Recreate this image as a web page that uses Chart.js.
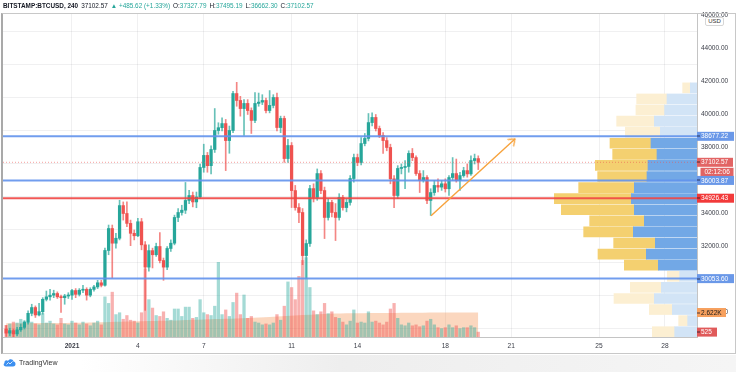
<!DOCTYPE html>
<html><head><meta charset="utf-8">
<script src="https://cdn.jsdelivr.net/npm/chart.js@4.4.1/dist/chart.umd.min.js"></script>
<style>
html,body{margin:0;padding:0;background:#fff;}
#wrap{position:relative;width:736px;height:372px;overflow:hidden;font-family:'Liberation Sans',Arial,sans-serif;}
#c{position:absolute;left:0;top:0;}
#hdr{position:absolute;left:3px;top:1px;font-size:6.4px;line-height:9px;color:#131722;white-space:nowrap;}
#hdr .t{color:#26a69a}
#hdr span{margin-right:3px}
#frame{position:absolute;left:1px;top:13px;width:735px;height:341px;box-sizing:border-box;border:1px solid #c8c8c8;border-left:2px solid #a9a9a9;pointer-events:none;}
#usd{position:absolute;left:705px;top:17px;width:19px;height:9px;box-sizing:border-box;border:1px solid #d6d6d6;border-radius:2px;background:#fff;font-size:6px;line-height:7px;text-align:center;color:#333;}
#logo{position:absolute;left:3px;top:357px;height:11px;font-size:7px;line-height:11px;color:#333;display:flex;align-items:center;}
#shade{position:absolute;left:80px;top:355px;width:656px;height:17px;background:linear-gradient(to right,rgba(240,240,240,0),rgba(236,236,236,0.9) 40%,rgba(244,244,244,0.9));}
</style></head>
<body>
<div id="wrap">
  <div id="shade"></div>
  <canvas id="c" width="736" height="372"></canvas>
  <div id="frame"></div>
  <div id="hdr"><b style="margin-right:3px">BITSTAMP:BTCUSD, 240</b><span>37102.57</span><span class="t">▲ +485.62 (+1.33%)</span><span>O:<span class="t" style="margin:0">37327.79</span></span><span>H:<span class="t" style="margin:0">37495.19</span></span><span>L:<span class="t" style="margin:0">36662.30</span></span><span>C:<span class="t" style="margin:0">37102.57</span></span></div>
  <div id="usd">USD</div>
  <div id="logo"><svg width="13" height="9" viewBox="0 0 26 18"><path d="M6 17 C1 17 0 12 3 10 C2 5 8 3 10 6 C12 1 20 1 21 7 C26 7 27 17 20 17 Z" fill="#3b8ff0"/><path d="M7 13 L11 9 L14 12 L19 7" stroke="#fff" stroke-width="1.6" fill="none"/></svg><span style="margin-left:3px">TradingView</span></div>
</div>
<script>
// ---- time axis (days from 2021-01-01 00:00) ----
const dayTicks  = [0, 3, 6, 10, 13, 17, 20, 24, 27];
const dayLabels = ['2021', '4', '7', '11', '14', '18', '21', '25', '28'];
const firstCandleDay = -3;          // first visible 4h candle: Dec 29 00:00
const barsPerDay = 6;               // 240-minute bars
const xMin = -3.142, xMax = 28.461;

// ---- price axis ----
const priceTicks = [28000, 30000, 32000, 34000, 36000, 38000, 40000, 42000, 44000, 46000];
const yMin = 26515, yMax = 46151;

// ---- OHLC (4h candles) ----
const opens = [27000,26750,26900,26700,26950,27100,27400,27950,28300,27850,28050,28800,28950,29050,29150,28950,28900,29000,
29050,29330,29100,29350,29400,29050,29400,29550,29800,29650,31760,33090,32200,32500,34480,34000,33400,32800,32650,33500,
32100,30750,31750,31500,32000,31150,30750,31880,32200,33760,34060,34200,34790,35090,34700,35000,36790,37520,36900,37880,
39030,39200,39450,38420,39030,41270,40850,40360,40670,40240,39640,40670,40750,40850,40240,40550,41030,39210,39760,37330,
38120,35390,34360,34060,31450,32180,35510,34970,36420,35390,33760,34670,34060,33760,34970,34360,34670,36120,37390,37090,
38240,38550,39510,39820,39150,38730,38420,38000,36100,35090,36730,36790,36850,37640,37390,36420,36000,36180,34790,35270,
35700,35600,35800,35500,36180,36420,36000,36300,36600,36400,37210,37327.79];
const highs = [27200,27050,27000,27100,27300,27500,28100,28500,28400,28550,28900,29300,29400,29350,29250,29050,29100,29200,
29400,29450,29450,29650,29500,29500,29650,29950,29950,31900,33300,33300,32800,34800,34700,34700,33600,33000,33700,33700,
32300,32100,31900,32200,32850,31300,32000,32400,33900,34300,34500,35880,35400,35300,35300,37000,38200,37700,38100,40360,
39500,39800,39700,39300,41400,41950,41100,40900,40900,40400,41330,41300,41200,41000,41450,41200,41300,39900,39900,38500,
38300,35700,34600,34300,32400,35700,35800,36700,36600,35600,34900,34800,34600,35200,35100,34900,36300,37600,37600,38600,
38850,40060,40100,40000,39300,38900,38600,38200,36300,36900,37000,37200,37800,37940,37500,36600,36600,36300,35500,36000,
36100,36000,36100,36300,37390,37300,36500,36800,37000,37500,37600,37495.19];
const lows = [26550,26600,26500,26600,26850,27000,27300,27800,27700,27800,27900,28700,28750,28900,28850,28000,28500,28850,
28800,28900,29000,29200,28750,28950,29300,29450,29550,29600,31500,30100,31900,32400,33600,33200,32050,32400,32600,31800,
28130,30500,30700,31400,31000,29950,30600,31700,32100,33500,33900,34000,34600,34400,34350,34900,36500,36500,36400,37700,
38800,39000,36600,37650,38900,40500,39900,38730,40000,38850,39500,40500,40600,40100,40100,40400,39000,38900,37100,37100,
34360,34200,33450,30900,30060,32000,34700,34800,35200,32480,33600,33800,32360,33600,34200,34100,34500,35900,36900,36950,
38100,38400,39300,39000,38600,37640,37800,35800,34360,34900,36400,35510,36500,37200,36300,35270,35900,34600,33880,35100,
35300,35400,35300,35090,36000,35900,35400,36200,36200,36300,37000,36662.30];
const closes = [26750,26900,26700,26950,27100,27400,27950,28300,27850,28050,28800,28950,29050,29150,28950,28900,29000,29050,
29330,29100,29350,29400,29050,29400,29550,29800,29650,31760,33090,32200,32500,34480,34000,33400,32800,32650,33500,32100,
30750,31750,31500,32000,31150,30750,31880,32200,33760,34060,34200,34790,35090,34700,35000,36790,37520,36900,37880,39030,
39200,39450,38420,39030,41270,40850,40360,40670,40240,39640,40670,40750,40850,40240,40550,41030,39210,39760,37330,38120,
35390,34360,34060,31450,32180,35510,34970,36420,35390,33760,34670,34060,33760,34970,34360,34670,36120,37390,37090,38240,
38550,39510,39820,39150,38730,38420,38000,36100,35090,36730,36790,36850,37640,37390,36420,36000,36180,34790,35270,35700,
35600,35800,35500,36180,36420,36000,36300,36600,36400,37210,37330,37102.57];
const volumes = [1250,1400,1600,1500,1900,1700,1500,1600,1400,1300,2500,1500,1700,1400,1300,2000,1400,1300,
1700,1500,1300,1600,1400,1200,1500,1700,1300,
4300,3600,4800,2400,2600,1900,2300,1800,1700,1500,2600,7300,4000,3100,2300,2200,2700,2000,1800,3000,3000,2200,3200,3200,2000,2100,4000,2600,2400,2300,
3300,8000,2400,2900,2200,3700,4700,2400,4500,2000,2200,1600,1500,1300,1400,1300,1500,2400,1800,3300,5900,5300,4000,6500,8200,8500,5300,
2800,2400,2700,3600,2500,2700,2100,2000,1600,1300,1700,2900,1500,1600,1500,2700,1600,1700,1500,1300,1600,3000,3600,2000,1300,1200,
1500,1200,1300,1100,1200,1700,1900,1300,1000,900,1000,1300,1000,1200,900,1000,1000,1200,1000,525];

// ---- volume moving average (orange area) ----
const maDays = [-3, -1, 1, 3, 5, 7, 9, 10.5, 12, 14, 16, 18.5];
const maVals = [1480, 1500, 1560, 1680, 1800, 1950, 2150, 2350, 2520, 2580, 2610, 2622];
const volMax = 34700;

// ---- visible-range volume profile (rows top -> bottom) ----
const vpPrices = [41614,40942,40271,39599,38927,38256,37584,36912,36240,35569,34897,34225,33553,32882,32210,31538,30867,30195,29523,28851,28180,27508,26836];
const vpSell   = [1000,4500,4860,6400,5500,6900,6000,7350,7500,9400,9850,9400,7900,9550,6250,7600,5800,2600,5350,6400,3700,1400,3350];
const vpBuy    = [1150,4550,4300,5650,5250,6150,6650,7900,7400,8350,11550,10950,8200,7450,6250,7250,5100,1850,4650,6050,3450,1350,3350];
const vpValueArea = [0,0,0,0,0,1,1,1,1,1,1,1,1,1,1,1,1,0,0,0,0,0,0];
const vpMax = 104100;

// ---- levels & drawings ----
const blueLevels = [38677.22, 36003.87, 30053.60];
const pocLevel = 34926.43;
const trendDays = [16.35, 20.17];
const trendPrices = [33867, 38515];
const countdown = '02:12:06';

// ---------------------------------------------------------------
const FONT = "'Liberation Sans', Arial, sans-serif";
Chart.defaults.font.family = FONT;
const UP = '#26a69a', DOWN = '#ef5350';
const days = closes.map((_, i) => firstCandleDay + i / barsPerDay);
const isUp = closes.map((c, i) => c >= opens[i]);

const arrowImg = document.createElement('canvas');
arrowImg.width = 16; arrowImg.height = 16;
(() => { const a = arrowImg.getContext('2d'); a.strokeStyle = '#f7a23b'; a.lineWidth = 1.4; a.lineCap = 'round';
  a.beginPath(); a.moveTo(2.5, 3.8); a.lineTo(8, 8); a.lineTo(2.5, 12.2); a.stroke(); })();

const hLine = (v, color, width, order, dash) => ({
  type: 'line', data: [{x: xMin, y: v}, {x: xMax, y: v}], borderColor: color, borderWidth: width,
  borderDash: dash || [], pointRadius: 0, fill: false, order, xAxisID: 'x', yAxisID: 'y'
});

const datasets = [
  { type: 'line', data: trendDays.map((d, i) => ({x: d, y: trendPrices[i]})), borderColor: '#f7a23b', borderWidth: 1.4,
    pointRadius: [0, 5], pointStyle: arrowImg, pointRotation: -42, fill: false, order: 0, xAxisID: 'x', yAxisID: 'y' },
  hLine(pocLevel, 'rgba(240,70,68,0.9)', 2, 1),
  ...blueLevels.map(v => hLine(v, 'rgba(98,146,236,0.9)', 2, 1)),
  hLine(closes[closes.length - 1], 'rgba(239,83,80,0.55)', 1, 2, [1, 2]),
  { type: 'bar', data: days.map((d, i) => ({x: d, y: [opens[i], closes[i]]})), backgroundColor: isUp.map(u => u ? UP : DOWN),
    barThickness: 2.6, grouped: false, minBarLength: 1, borderWidth: 0, order: 3, xAxisID: 'x', yAxisID: 'y' },
  { type: 'bar', data: days.map((d, i) => ({x: d, y: [lows[i], highs[i]]})),
    backgroundColor: isUp.map(u => u ? 'rgba(38,166,154,0.7)' : 'rgba(239,83,80,0.7)'),
    barThickness: 1, grouped: false, borderWidth: 0, order: 4, xAxisID: 'x', yAxisID: 'y' },
  { type: 'bar', indexAxis: 'y', data: vpPrices.map((p, i) => ({y: p, x: [0, vpSell[i]]})),
    backgroundColor: vpValueArea.map(v => v ? '#72a8e6' : '#d2e4f6'), barThickness: 10, grouped: false, borderWidth: 0,
    order: 5, xAxisID: 'xVP', yAxisID: 'y' },
  { type: 'bar', indexAxis: 'y', data: vpPrices.map((p, i) => ({y: p, x: [vpSell[i], vpSell[i] + vpBuy[i]]})),
    backgroundColor: vpValueArea.map(v => v ? '#f4d070' : '#fcefd2'), barThickness: 10, grouped: false, borderWidth: 0,
    order: 5, xAxisID: 'xVP', yAxisID: 'y' },
  { type: 'bar', data: days.map((d, i) => ({x: d, y: volumes[i]})),
    backgroundColor: isUp.map(u => u ? 'rgba(38,166,154,0.42)' : 'rgba(239,83,80,0.45)'),
    barThickness: 2.6, grouped: false, borderWidth: 0, order: 6, xAxisID: 'x', yAxisID: 'yVol' },
  { type: 'line', data: maDays.map((d, i) => ({x: d, y: maVals[i]})), borderWidth: 0, borderColor: 'rgba(0,0,0,0)',
    backgroundColor: 'rgba(244,150,88,0.38)', fill: 'origin', tension: 0.3, pointRadius: 0, order: 7, xAxisID: 'x', yAxisID: 'yVol' }
];

const boxPlugin = {
  id: 'boxes',
  afterDraw(chart) {
    const {ctx, chartArea} = chart;
    const yS = chart.scales.y, vS = chart.scales.yVol;
    const x0 = chartArea.right;
    ctx.save();
    ctx.font = '6.5px ' + FONT;
    ctx.textBaseline = 'middle';
    ctx.textAlign = 'left';
    const box = (y, text, bg, fg, w, dx) => {
      ctx.fillStyle = bg;
      ctx.fillRect(x0 + dx, y - 4.5, w, 9);
      ctx.fillStyle = fg;
      ctx.fillText(text, x0 + dx + 4, y + 0.3);
      if (!dx) { ctx.fillStyle = 'rgba(20,20,40,0.75)'; ctx.fillRect(x0, Math.round(y) - 0.5, 3, 1); }
    };
    const last = closes[closes.length - 1];
    box(yS.getPixelForValue(blueLevels[0]), blueLevels[0].toFixed(2), '#6a98e8', '#fff', 37, 0);
    box(yS.getPixelForValue(last), last.toFixed(2), '#e26464', '#fff', 36, 0);
    box(yS.getPixelForValue(last) + 10, countdown, '#e26464', '#fff', 33, 3.5);
    box(yS.getPixelForValue(blueLevels[1]), blueLevels[1].toFixed(2), '#6a98e8', '#fff', 37, 0);
    box(yS.getPixelForValue(pocLevel), pocLevel.toFixed(2), '#f23a3a', '#fff', 37, 0);
    box(yS.getPixelForValue(blueLevels[2]), blueLevels[2].toFixed(2), '#6a98e8', '#fff', 37, 0);
    const ma = maVals[maVals.length - 1];
    box(vS.getPixelForValue(ma), (ma / 1000).toFixed(3) + 'K', '#f6a05e', '#1a1a1a', 29, 0);
    const lv = volumes[volumes.length - 1];
    box(vS.getPixelForValue(lv), String(lv), '#e05a5a', '#fff', 20, 0);
    ctx.restore();
  }
};

new Chart(document.getElementById('c'), {
  type: 'bar',
  data: { datasets },
  plugins: [boxPlugin],
  options: {
    responsive: false, animation: false, devicePixelRatio: 1, events: [],
    layout: { autoPadding: false, padding: { left: 3, top: 13, right: 0, bottom: 19 } },
    plugins: { legend: { display: false }, tooltip: { enabled: false } },
    scales: {
      x: {
        type: 'linear', axis: 'x', position: 'bottom', min: xMin, max: xMax, offset: false,
        grid: { color: 'rgba(42,46,57,0.07)', drawTicks: false, offset: false },
        border: { display: true, color: '#c4c4c4' },
        ticks: { padding: 5, autoSkip: false, maxRotation: 0, color: '#3a3d47',
          font: c => ({ size: 6.6, weight: c.index === 0 ? 'bold' : 'normal' }),
          callback: (v, i) => dayLabels[i] },
        afterBuildTicks: s => { s.ticks = dayTicks.map(v => ({ value: v })); },
        afterFit: s => { s.height = 16; }
      },
      y: {
        type: 'linear', axis: 'y', position: 'right', min: yMin, max: yMax, offset: false,
        grid: { color: 'rgba(42,46,57,0.07)', drawTicks: false },
        border: { display: true, color: '#c4c4c4' },
        ticks: { padding: 4, color: '#3a3d47', font: { size: 6.5 }, callback: v => Number(v).toFixed(2) },
        afterBuildTicks: s => { s.ticks = priceTicks.map(v => ({ value: v })); },
        afterFit: s => { s.width = 39; }
      },
      yVol: { type: 'linear', axis: 'y', position: 'left', display: false, min: 0, max: volMax, offset: false },
      xVP: { type: 'linear', axis: 'x', position: 'top', display: false, reverse: true, min: 0, max: vpMax, offset: false }
    }
  }
});
</script>
</body></html>
